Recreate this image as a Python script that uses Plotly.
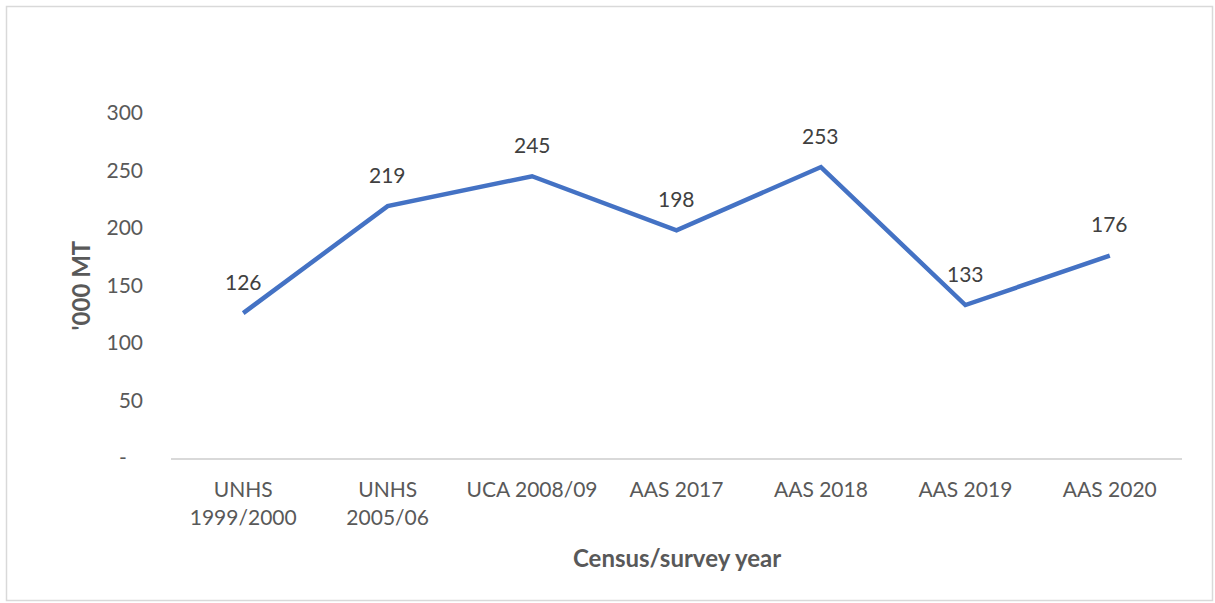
import plotly.graph_objects as go

categories = ["UNHS<br>1999/2000", "UNHS<br>2005/06", "UCA 2008/09", "AAS 2017", "AAS 2018", "AAS 2019", "AAS 2020"]
values = [126, 219, 245, 198, 253, 133, 176]
y_tickvals = [0, 50, 100, 150, 200, 250, 300]
y_ticktext = ["-\u00a0\u00a0\u00a0", "50", "100", "150", "200", "250", "300"]

FONT = "Lato"
TXT = "#595959"
W, H = 1215, 603
L, R, T, B = 171, 33, 113, 145
pw, ph = W - L - R, H - T - B

fig = go.Figure()
fig.add_trace(go.Scatter(
    x=categories, y=values, mode="lines",
    line=dict(color="#4472C4", width=4.5),
    hoverinfo="skip", showlegend=False,
))

annotations = []
for c, v in zip(categories, values):
    annotations.append(dict(x=c, y=v, xref="x", yref="y", text=str(v), showarrow=False,
                            yshift=32, font=dict(family=FONT, size=21, color="#404040")))
annotations.append(dict(x=0.5, y=(458 - 557) / ph, xref="paper", yref="paper",
                        xanchor="center", yanchor="middle",
                        text="<b>Census/survey year</b>", showarrow=False,
                        font=dict(family=FONT, size=24, color=TXT)))
annotations.append(dict(x=(80 - L) / pw, y=0.5, xref="paper", yref="paper",
                        xanchor="center", yanchor="middle",
                        text="<b>'000 MT</b>", showarrow=False, textangle=-90,
                        font=dict(family=FONT, size=24, color=TXT)))

fig.update_layout(
    width=W, height=H,
    margin=dict(l=L, r=R, t=T, b=B),
    paper_bgcolor="white", plot_bgcolor="white",
    font=dict(family=FONT, size=21, color=TXT),
    xaxis=dict(range=[-0.5, 6.5], showgrid=False, showline=True, linecolor="#D9D9D9", linewidth=2,
               ticks="", tickfont=dict(size=21, color=TXT), ticklabelstandoff=12,
               zeroline=False),
    yaxis=dict(range=[0, 300], showgrid=False, showline=False, zeroline=False,
               tickvals=y_tickvals, ticktext=y_ticktext, ticks="",
               tickfont=dict(size=21, color=TXT), ticklabelstandoff=27),
    annotations=annotations,
    shapes=[dict(type="rect", xref="paper", yref="paper",
                 x0=(6.5 - L) / pw, x1=(1212.5 - L) / pw,
                 y0=(458 - 600.5) / ph, y1=(458 - 6.5) / ph,
                 line=dict(color="#D9D9D9", width=1.5), fillcolor="rgba(0,0,0,0)", layer="below")],
)

fig.write_html("out.html", config={"displayModeBar": False},
               post_script="document.body.style.margin='0';")
